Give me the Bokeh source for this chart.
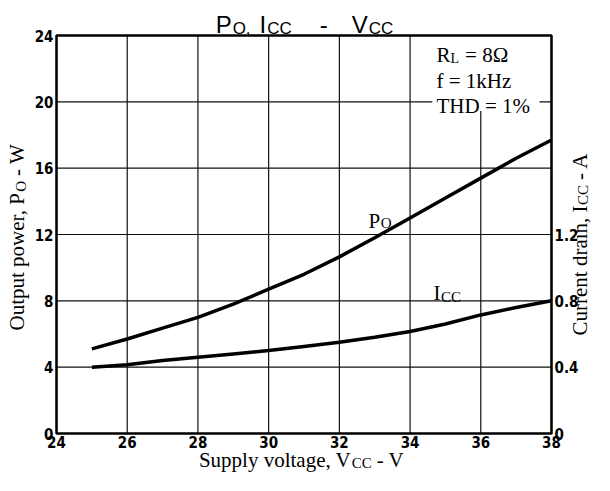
from math import pi
from bokeh.plotting import figure
from bokeh.models import Range1d, Label
from bokeh.embed import file_html
from bokeh.resources import INLINE

# ---- data ----
vcc = [25, 26, 27, 28, 29, 30, 31, 32, 33, 34, 35, 36, 37, 38]
po_w = [5.1, 5.7, 6.35, 7.0, 7.8, 8.7, 9.6, 10.65, 11.8, 13.0, 14.2, 15.4, 16.6, 17.7]
icc_a = [0.40, 0.415, 0.44, 0.46, 0.48, 0.50, 0.525, 0.55, 0.58, 0.615, 0.66, 0.715, 0.76, 0.80]
x_ticks = [24, 26, 28, 30, 32, 34, 36, 38]
x_tick_labels = ["24", "26", "28", "30", "32", "34", "36", "38"]
po_ticks = [0, 4, 8, 12, 16, 20, 24]
po_tick_labels = ["0", "4", "8", "12", "16", "20", "24"]
icc_ticks = [0, 0.4, 0.8, 1.2]
icc_tick_labels = ["0", "0.4", "0.8", "1.2"]
icc_full_scale = 2.4   # right axis value at the top of the frame

SERIF = "Liberation Serif"
SANS = "Liberation Sans"
TICKF = "DejaVu Sans Condensed"

TIMES = {' ': .25, ',': .25, '-': .333, '=': .564, '%': .833, '1': .5, '8': .5, 'Ω': .768,
         'A': .722, 'C': .667, 'D': .722, 'H': .722, 'I': .333, 'L': .611, 'O': .722, 'P': .556,
         'R': .667, 'S': .556, 'T': .611, 'V': .722, 'W': .944,
         'a': .444, 'c': .444, 'd': .5, 'e': .444, 'f': .333, 'g': .5, 'h': .5, 'i': .278, 'k': .5,
         'l': .278, 'n': .5, 'o': .5, 'p': .5, 'r': .333, 't': .278, 'u': .5, 'v': .5, 'w': .722,
         'y': .5, 'z': .444}
ARIAL = {'P': .667, 'O': .778, ',': .278, 'I': .278, 'C': .722, '-': .333, 'V': .667, ' ': .278}


def tw(s, size, table):
    return sum(table.get(ch, 0.5) for ch in s) * size


# ---- layout: canvas 594x475, plotting box inside it (canvas px) ----
W, H = 594, 475
BOX_L, BOX_R, BOX_T, BOX_B = 56, 551, 35, 433
xmin, xmax = x_ticks[0], x_ticks[-1]
ymin, ymax = po_ticks[0], po_ticks[-1]
pxu = (BOX_R - BOX_L) / (xmax - xmin)
pyu = (BOX_B - BOX_T) / (ymax - ymin)
xr = Range1d(xmin - BOX_L / pxu, xmax + (W - BOX_R) / pxu)
yr = Range1d(ymin - (H - BOX_B) / pyu, ymax + BOX_T / pyu)
k = icc_full_scale / (ymax - ymin)

p = figure(width=W, height=H, x_range=xr, y_range=yr, x_axis_type=None, y_axis_type=None,
           output_backend="svg", toolbar_location=None, min_border=0)
p.background_fill_color = "white"
p.border_fill_color = "white"
p.outline_line_color = None
p.extra_y_ranges = {"icc": Range1d(yr.start * k, yr.end * k)}

# grid
p.segment(x0=x_ticks, y0=[ymin] * len(x_ticks), x1=x_ticks, y1=[ymax] * len(x_ticks),
          line_color="#111111", line_width=1.2)
p.segment(x0=[xmin] * len(po_ticks), y0=po_ticks, x1=[xmax] * len(po_ticks), y1=po_ticks,
          line_color="#111111", line_width=1.2)

# white backing for the condition text (covers grid in top-right cell)
p.quad(left=[34.63], right=[37.66], bottom=[19.45], top=[ymax],
       fill_color="white", line_color=None)

# curves
p.line(vcc, po_w, line_color="black", line_width=3.5)
p.line(vcc, icc_a, line_color="black", line_width=3.5, y_range_name="icc")

# frame
p.quad(left=[xmin], right=[xmax], bottom=[ymin], top=[ymax],
       fill_color=None, line_color="black", line_width=2.5)


def tick_label(x, y, text, xu, yu, align, baseline, rng="default"):
    p.add_layout(Label(x=x, y=y, x_units=xu, y_units=yu, text=text, y_range_name=rng,
                       text_font=TICKF, text_font_style="bold", text_font_size="15px",
                       text_align=align, text_baseline=baseline, text_color="black"))


for t, s in zip(po_ticks, po_tick_labels):
    tick_label(BOX_L - 3, t, s, "screen", "data", "right",
               "alphabetic" if t == ymin else "middle")
for t, s in zip(icc_ticks, icc_tick_labels):
    tick_label(BOX_R + 3, t, s, "screen", "data", "left",
               "alphabetic" if t == 0 else "middle", "icc")
for t, s in zip(x_ticks, x_tick_labels):
    tick_label(t, H - BOX_B - 2, s, "data", "screen", "center", "top")


# ---- text helpers: real picture px -> canvas screen units (y up) ----
def SX(xr_):
    return xr_ - 8


def SY(yr_):
    return H + 8 - yr_


def lab(x, y, text, size, font=SERIF, angle=0.0):
    p.add_layout(Label(x=x, y=y, x_units="screen", y_units="screen", text=text,
                       text_font=font, text_font_size=f"{size}px", angle=angle,
                       text_align="left", text_baseline="alphabetic", text_color="black"))


def hrun(x0, ybase, pieces, table, font=SERIF):
    x = x0
    for text, size, drop, gap in pieces:
        x += gap
        lab(SX(x), SY(ybase + drop), text, size, font)
        x += tw(text, size, table)


def vrun(xbase, y0, pieces, table, font=SERIF):
    y = y0
    for text, size, drop, gap in pieces:
        y -= gap
        lab(SX(xbase + drop), SY(y), text, size, font, angle=pi / 2)
        y -= tw(text, size, table)


# title
title_pieces = [("P", 24, 0, 0), ("O,", 17, 4, 1), ("I", 24, 0, 9), ("CC", 17, 4, 1),
                ("-", 24, 0, 28), ("V", 24, 0, 24), ("CC", 17, 4, 1)]
tot = sum(tw(t, s, ARIAL) + g for t, s, d, g in title_pieces)
hrun(312 - tot / 2, 32, title_pieces, ARIAL, SANS)

# axis titles
xl_pieces = [("Supply voltage, V", 21, 0, 0), ("CC", 15, 3, 0.5), ("- V", 21, 0, 5)]
tot = sum(tw(t, s, TIMES) + g for t, s, d, g in xl_pieces)
hrun(309 - tot / 2, 467, xl_pieces, TIMES)
vrun(24, 338, [("Output power, P", 21, 0, 0), ("O", 15, 4, 0.5), ("- W", 21, 0, 5)], TIMES)
vrun(587, 343, [("Current drain, I", 21, 0, 0), ("CC", 15, 3, 0.5), ("- A", 21, 0, 5)], TIMES)

# curve labels
hrun(376, 228, [("P", 21, 0, 0), ("O", 15, 2, 0.5)], TIMES)
hrun(441, 300, [("I", 21, 0, 0), ("CC", 15, 4, 0.5)], TIMES)

# test conditions
hrun(444, 62, [("R", 21, 0, 0), ("L", 14, 4, 0), ("= 8Ω", 21, 0, 6)], TIMES)
hrun(444, 88, [("f = 1kHz", 21, 0, 0)], TIMES)
hrun(444, 113, [("THD = 1%", 21, 0, 0)], TIMES)

open("out.html", "w").write(file_html(p, INLINE))
